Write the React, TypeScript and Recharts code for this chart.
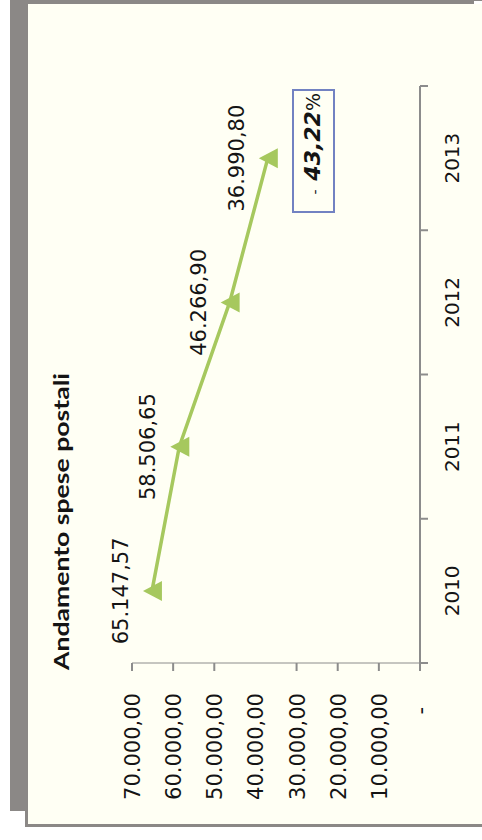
import React from 'react';
import { LineChart, Line, XAxis, YAxis } from 'recharts';

// ---- data ----
const categories = ['2010', '2011', '2012', '2013'];
const values = [65147.57, 58506.65, 46266.9, 36990.8];
const valueTicks = [0, 10000, 20000, 30000, 40000, 50000, 60000, 70000];
const hiddenTickMarks = [40000];
const title = 'Andamento spese postali';

// ---- styles ----
const GREEN = '#A6C85E';
const AXIS = '#8C8C8C';
const FRAME = '#8B8886';
const PANEL = '#FFFFF4';
const TEXT = '#141414';
const NUM_FONT = '"DejaVu Sans", sans-serif';

const data = categories.map((year, i) => ({ year, pos: i + 0.5, value: values[i] }));
const catTicks: number[] = [];
for (let i = 0; i <= categories.length; i++) {
  catTicks.push(i);
  if (i < categories.length) catTicks.push(i + 0.5);
}

const fmt = (n: number) => {
  const [int, dec] = Math.abs(n).toFixed(2).split('.');
  return int.replace(/\B(?=(\d{3})+(?!\d))/g, '.') + ',' + dec;
};

const change = ((values[values.length - 1] - values[0]) / values[0]) * 100;

const YTick = (props: any) => {
  const { x, y, payload } = props;
  const v = payload.value;
  return (
    <g>
      {!hiddenTickMarks.includes(v) && (
        <line x1={x + 22} x2={x + 30} y1={y} y2={y} stroke={AXIS} strokeWidth={2} />
      )}
      <text
        x={v === 0 ? x - 14 : x}
        y={y}
        dy="0.38em"
        textAnchor="end"
        fontFamily={NUM_FONT}
        fontSize={21}
        fill={TEXT}
      >
        {v === 0 ? '-' : fmt(v)}
      </text>
    </g>
  );
};

const XTick = (props: any) => {
  const { x, y, payload } = props;
  const v = payload.value;
  if (Number.isInteger(v)) {
    return <line x1={x} x2={x} y1={y - 8} y2={y} stroke={AXIS} strokeWidth={2} />;
  }
  return (
    <text x={x} y={y + 31} textAnchor="middle" fontFamily={NUM_FONT} fontSize={20} fill={TEXT}>
      {categories[Math.floor(v)]}
    </text>
  );
};

const TriDot = (props: any) => {
  const { cx, cy, value, index } = props;
  if (cx == null || cy == null) return <g key={index} />;
  return (
    <g key={index}>
      <polygon points={`${cx},${cy - 9} ${cx - 10},${cy + 10} ${cx + 10},${cy + 10}`} fill={GREEN} />
      <text x={cx} y={cy - 24} textAnchor="middle" fontFamily={NUM_FONT} fontSize={21} fill={TEXT}>
        {fmt(value)}
      </text>
    </g>
  );
};

export default function App() {
  return (
    <div style={{ position: 'absolute', left: 0, top: 0, width: 482, height: 840, overflow: 'hidden' }}>
      {/* page frame */}
      <div style={{ position: 'absolute', left: 10, top: 0, width: 464, height: 4, background: FRAME }} />
      <div style={{ position: 'absolute', left: 474, top: 0, width: 8, height: 1, background: FRAME }} />
      <div style={{ position: 'absolute', left: 10, top: 0, width: 16, height: 811, background: FRAME }} />
      <div
        style={{
          position: 'absolute',
          left: 25,
          top: 4,
          width: 457,
          height: 823,
          background: PANEL,
          borderLeft: `3px solid ${FRAME}`,
          borderBottom: `3px solid ${FRAME}`,
          boxSizing: 'border-box',
        }}
      />
      {/* rotated chart */}
      <div
        style={{
          position: 'absolute',
          left: 0,
          top: 0,
          width: 840,
          height: 482,
          transformOrigin: '0 0',
          transform: 'translate(0px, 840px) rotate(-90deg)',
        }}
      >
        <LineChart width={840} height={482} data={data} margin={{ top: 132, right: 86, left: 0, bottom: 0 }}>
          <XAxis
            dataKey="pos"
            type="number"
            domain={[0, categories.length]}
            ticks={catTicks}
            interval={0}
            axisLine={{ stroke: AXIS, strokeWidth: 2 }}
            tickLine={false}
            tickSize={8}
            tickMargin={0}
            height={62}
            tick={<XTick />}
          />
          <YAxis
            type="number"
            domain={[0, 70000]}
            ticks={valueTicks}
            interval={0}
            width={177}
            axisLine={{ stroke: AXIS, strokeWidth: 1 }}
            tickLine={false}
            tickSize={8}
            tickMargin={22}
            tick={<YTick />}
          />
          <Line
            type="linear"
            dataKey="value"
            stroke={GREEN}
            strokeWidth={3.5}
            dot={(p: any) => <TriDot {...p} />}
            activeDot={false}
            isAnimationActive={false}
          />
        </LineChart>
        <svg width={840} height={482} style={{ position: 'absolute', left: 0, top: 0, pointerEvents: 'none' }}>
          <text
            x={170}
            y={69}
            fontFamily="Lato, sans-serif"
            fontWeight={700}
            fontSize={20}
            textLength={297}
            lengthAdjust="spacingAndGlyphs"
            fill={TEXT}
          >
            {title}
          </text>
        </svg>
        <div
          style={{
            position: 'absolute',
            left: 627,
            top: 292,
            width: 124,
            height: 43,
            border: '2px solid #7282C2',
            boxSizing: 'border-box',
            display: 'flex',
            alignItems: 'baseline',
            justifyContent: 'flex-end',
            paddingRight: 2,
            paddingTop: 6,
            fontFamily: NUM_FONT,
            color: TEXT,
            whiteSpace: 'pre',
          }}
        >
          <span style={{ fontSize: 14 }}>{change < 0 ? '-  ' : '+  '}</span>
          <span style={{ fontSize: 22, fontWeight: 700, fontStyle: 'italic' }}>{fmt(change)}</span>
          <span style={{ fontSize: 19 }}>%</span>
        </div>
      </div>
    </div>
  );
}
